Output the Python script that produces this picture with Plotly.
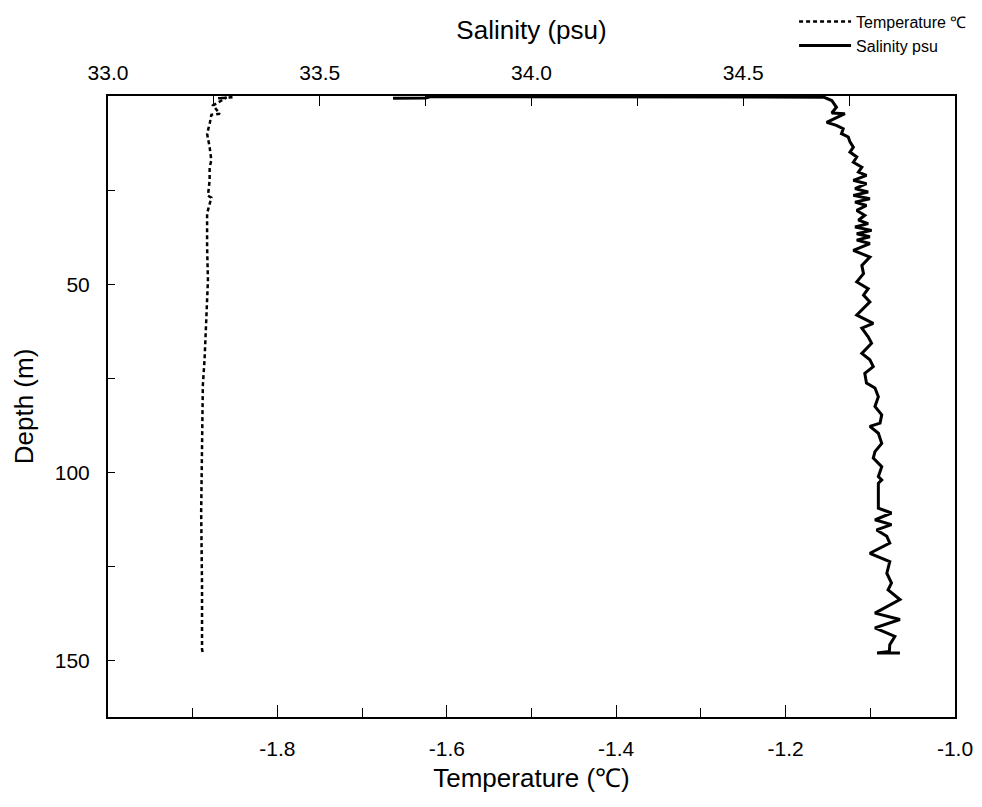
import plotly.graph_objects as go

# temperature profile (bottom axis)
temp_depth = [0.3, 0.6, 0.4, 1.2, 2.5, 4.7, 5.0, 7.4, 10.0, 13.6, 17.1, 18.9, 22.4,
              26.5, 27.0, 31.2, 40.1, 48.9, 60.0, 70.0, 76.8, 90.0, 110.7, 130.0,
              147.0, 148.0]
temp_c = [-1.853, -1.870, -1.860, -1.866, -1.876, -1.868, -1.878, -1.880, -1.883,
          -1.880, -1.878, -1.880, -1.880, -1.882, -1.878, -1.883, -1.883, -1.882,
          -1.884, -1.886, -1.888, -1.889, -1.890, -1.889, -1.889, -1.888]

# salinity profile (top axis)
sal_depth = [0.6, 0.5, 0.2, 0.2, 0.2, 0.3, 1.2, 3.0, 4.5, 4.7, 7.0, 7.8, 8.7, 10.0,
             10.9, 12.2, 13.6, 14.9, 16.2, 17.6, 18.9, 20.2, 21.1, 22.4, 23.3, 24.6,
             25.5, 26.4, 27.3, 28.2, 29.1, 30.4, 31.7, 33.0, 33.9, 34.8, 35.7, 36.6,
             37.4, 38.3, 39.2, 41.0, 42.8, 45.0, 47.2, 49.4, 51.2, 52.9, 54.7, 56.9,
             58.2, 60.4, 61.7, 64.0, 65.7, 68.4, 70.1, 71.9, 73.7, 76.3, 77.6, 79.9,
             82.5, 84.7, 86.9, 87.8, 89.6, 92.3, 94.5, 96.2, 98.5, 101.1, 102.0, 102.9,
             109.5, 110.8, 112.6, 113.9, 115.3, 117.0, 118.8, 121.5, 123.7, 126.8,
             129.4, 131.2, 133.8, 137.4, 139.1, 141.3, 143.6, 145.8, 147.6, 148.0,
             148.0]
sal_psu = [33.673, 33.750, 33.760, 34.000, 34.500, 34.690, 34.709, 34.720, 34.709,
           34.740, 34.697, 34.720, 34.736, 34.732, 34.748, 34.752, 34.760, 34.752,
           34.768, 34.760, 34.780, 34.772, 34.791, 34.760, 34.791, 34.764, 34.795,
           34.760, 34.799, 34.764, 34.791, 34.768, 34.787, 34.772, 34.795, 34.764,
           34.803, 34.768, 34.799, 34.768, 34.799, 34.760, 34.799, 34.780, 34.784,
           34.768, 34.795, 34.784, 34.799, 34.780, 34.768, 34.807, 34.780, 34.795,
           34.803, 34.780, 34.799, 34.807, 34.787, 34.791, 34.811, 34.819, 34.811,
           34.827, 34.823, 34.799, 34.819, 34.827, 34.811, 34.807, 34.827, 34.819,
           34.827, 34.819, 34.819, 34.850, 34.811, 34.850, 34.815, 34.839, 34.846,
           34.799, 34.846, 34.839, 34.850, 34.842, 34.870, 34.811, 34.870, 34.811,
           34.858, 34.846, 34.845, 34.816, 34.870]

temp_ticks = [-1.8, -1.6, -1.4, -1.2, -1.0]
temp_minor = [-1.9, -1.7, -1.5, -1.3, -1.1]
sal_ticks = [33.0, 33.5, 34.0, 34.5]
sal_minor = [33.25, 33.75, 34.25, 34.75]
depth_ticks = [50, 100, 150]
depth_minor = [25, 75, 125]

font = "Liberation Sans, Arial, sans-serif"

fig = go.Figure()
fig.add_trace(go.Scatter(
    x=temp_c, y=temp_depth, mode='lines', name='Temperature ℃',
    line=dict(color='black', width=2.5, dash='4px,3px'), xaxis='x'
))
fig.add_trace(go.Scatter(
    x=sal_psu, y=sal_depth, mode='lines', name='Salinity psu',
    line=dict(color='black', width=3), xaxis='x2'
))

# page body has an 8px margin, so the figure is sized to fit the window
fig.update_layout(
    width=974, height=799,
    paper_bgcolor='white', plot_bgcolor='white',
    font=dict(family=font, color='black', size=21),
    margin=dict(l=100, r=27, t=88, b=90, autoexpand=False),
    xaxis=dict(
        range=[-2.0, -1.0], side='bottom',
        tickmode='array', tickvals=temp_ticks,
        ticktext=['%.1f' % v for v in temp_ticks],
        ticks='inside', ticklen=12, tickwidth=1, tickcolor='black',
        ticklabelstandoff=12,
        minor=dict(tickmode='array', tickvals=temp_minor, ticks='inside',
                   ticklen=9, tickwidth=1, tickcolor='black', showgrid=False),
        showline=True, linecolor='black', linewidth=2,
        showgrid=False, zeroline=False,
        title=dict(text='Temperature (℃)', font=dict(size=26), standoff=10),
    ),
    xaxis2=dict(
        range=[33.0, 35.0], side='top', overlaying='x', anchor='y',
        tickmode='array', tickvals=sal_ticks,
        ticktext=['%.1f' % v for v in sal_ticks],
        ticks='inside', ticklen=10, tickwidth=1, tickcolor='black',
        ticklabelstandoff=6,
        minor=dict(tickmode='array', tickvals=sal_minor, ticks='inside',
                   ticklen=10, tickwidth=1, tickcolor='black', showgrid=False),
        showline=True, linecolor='black', linewidth=2,
        showgrid=False, zeroline=False,
        title=dict(text='Salinity (psu)', font=dict(size=26), standoff=13),
    ),
    yaxis=dict(
        range=[165, 0],
        tickmode='array', tickvals=depth_ticks,
        ticks='inside', ticklen=7, tickwidth=1, tickcolor='black',
        ticklabelstandoff=12,
        minor=dict(tickmode='array', tickvals=depth_minor, ticks='inside',
                   ticklen=7, tickwidth=1, tickcolor='black', showgrid=False),
        showline=True, linecolor='black', linewidth=2, mirror=True,
        showgrid=False, zeroline=False,
        title=dict(text='Depth (m)', font=dict(size=26), standoff=14),
    ),
    legend=dict(
        x=0.81, y=1.147, xanchor='left', yanchor='top',
        bgcolor='rgba(0,0,0,0)', font=dict(size=16),
        tracegroupgap=0, itemwidth=52,
    ),
    showlegend=True,
)

fig.write_html("out.html")
